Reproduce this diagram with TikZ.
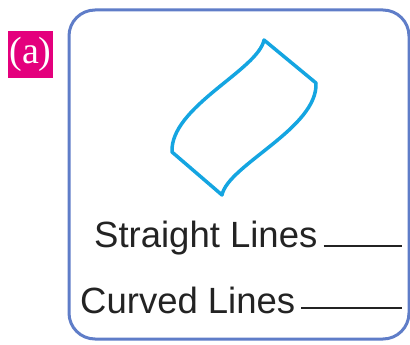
\documentclass[tikz,border=0pt]{standalone}
\usepackage{fontspec}
\setmainfont{Liberation Sans}
\newfontfamily\tagfont{Liberation Serif}
\definecolor{frameblue}{RGB}{95,125,200}
\definecolor{sheetblue}{RGB}{20,165,225}
\definecolor{tagpink}{RGB}{228,0,125}
\definecolor{inkgray}{RGB}{35,35,35}
\usepackage{tikz}

\begin{document}
\begin{tikzpicture}[x=1pt, y=-1pt,
    answer/.style={anchor=base west, inner sep=0pt, text=inkgray, font=\fontsize{36.5}{40}\selectfont},
    blank/.style={line width=2pt, inkgray}]
  \useasboundingbox (0,0) rectangle (410,345);
  %% Question tag
  \node[fill=tagpink, text=white, minimum width=45pt, minimum height=47pt, inner sep=0pt,
        font=\tagfont\fontsize{38}{42}\selectfont] (tag) at (30.5,54.5) {(a)};
  %% Frame
  \draw[frameblue, line width=3pt, rounded corners=26pt] (69,10) rectangle (409,339);
  %% Curved sheet
  \draw[sheetblue, line width=3.5pt, line join=round]
    (264,40) -- (316,83)
    .. controls (318,128) and (228,165) .. (222,195)
    -- (172,152)
    .. controls (170,107) and (258,70) .. (264,40) -- cycle;
  %% Answer lines
  \node[answer] (straight) at (94,247) {Straight Lines};
  \node[answer] (curved) at (80,313) {Curved Lines};
  \coordinate (straightend) at (402,246);
  \coordinate (curvedend) at (402,308);
  \draw[blank] ([xshift=6pt, yshift=1pt]straight.base east) -- (straightend);
  \draw[blank] ([xshift=6pt, yshift=5pt]curved.base east) -- (curvedend);
\end{tikzpicture}
\end{document}
